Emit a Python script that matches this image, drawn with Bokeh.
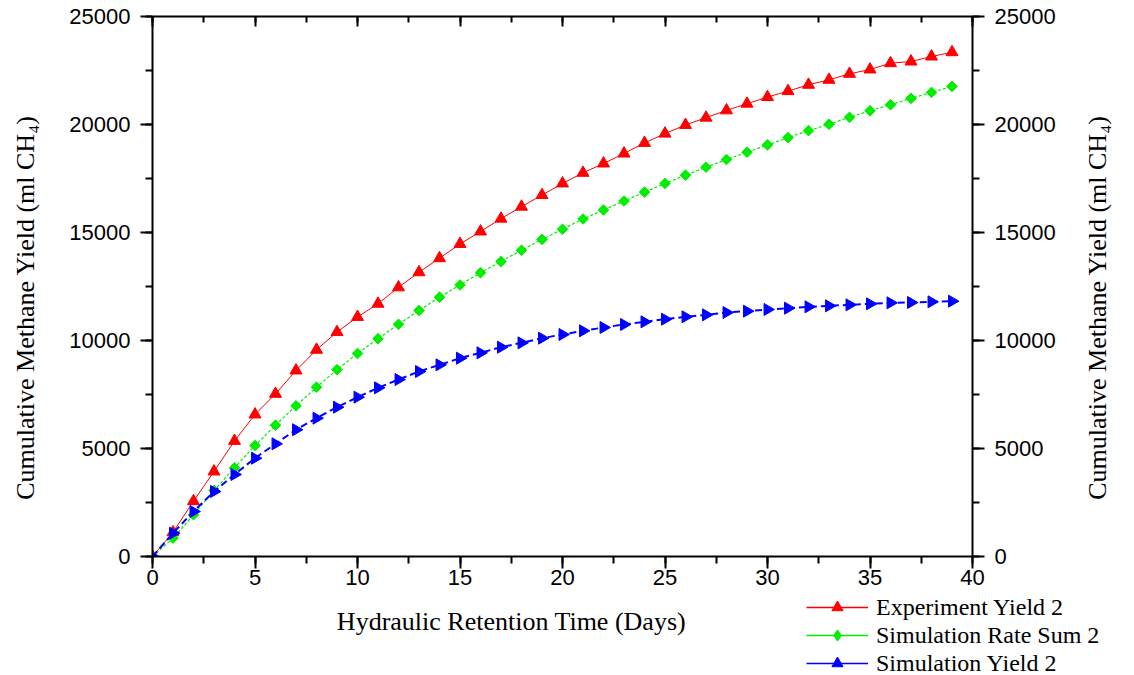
import numpy as np
from bokeh.plotting import figure
from bokeh.models import (LinearAxis, Range1d, SingleIntervalTicker, Legend, LegendItem, Label)
from bokeh.layouts import column, row
from bokeh.embed import file_html
from bokeh.resources import INLINE

# ---- data ----
days = list(range(0, 40))
experiment_yield_2 = [0, 1120, 2560, 3935, 5350, 6574, 7530, 8611, 9570, 10390,
                      11090, 11700, 12460, 13160, 13810, 14470, 15046, 15640, 16194, 16732,
                      17270, 17763, 18194, 18655, 19147, 19578, 19978, 20316, 20654, 20962,
                      21270, 21546, 21839, 22069, 22346, 22546, 22838, 22915, 23146, 23346]
simulation_rate_sum_2 = [0, 850, 1930, 3056, 4105, 5139, 6080, 6975, 7840, 8650,
                         9400, 10085, 10750, 11389, 12006, 12570, 13135, 13657, 14180, 14680,
                         15150, 15625, 16040, 16456, 16871, 17271, 17655, 18024, 18378, 18717,
                         19055, 19393, 19716, 20008, 20331, 20639, 20916, 21208, 21485, 21762]
simulation_yield_2 = [0, 1080, 2083, 3009, 3796, 4552, 5216, 5870, 6404, 6913,
                      7376, 7809, 8194, 8565, 8873, 9182, 9429, 9691, 9892, 10108,
                      10278, 10448, 10602, 10741, 10864, 10988, 11096, 11188, 11296, 11358,
                      11435, 11497, 11559, 11605, 11651, 11698, 11744, 11759, 11790, 11821]
series_names = ["Experiment Yield 2", "Simulation Rate Sum 2", "Simulation Yield 2"]
x_label = "Hydraulic Retention Time (Days)"
y_label = "Cumulative Methane Yield (ml CH\u2084)"

SERIF = "Liberation Serif"
SANS = "Liberation Sans"
RED, GREEN, BLUE = "#FF0000", "#00EE00", "#0000FF"

TOP, BOTTOM = 16, 38      # borders of the main panel
H_MAIN = 594


def no_align(fig):
    try:
        fig.frame_align = False
    except Exception:
        pass


def blank(fig):
    fig.grid.visible = False
    fig.outline_line_color = None
    fig.background_fill_color = "white"
    fig.border_fill_color = "white"


p = figure(width=1024, height=H_MAIN, output_backend="svg", toolbar_location=None,
           x_range=Range1d(0, 40), y_range=Range1d(0, 25000),
           min_border_left=102, min_border_right=102, min_border_top=TOP, min_border_bottom=BOTTOM)
blank(p)
no_align(p)


def style_axis(ax, ticks_out=True, labels=True):
    ax.axis_line_color = "black"
    ax.axis_line_width = 2
    ax.major_tick_line_color = "black"
    ax.major_tick_line_width = 2
    ax.minor_tick_line_color = "black"
    ax.minor_tick_line_width = 2
    if ticks_out:
        ax.major_tick_out = 12
        ax.major_tick_in = 0
        ax.minor_tick_out = 7
        ax.minor_tick_in = 0
    else:
        ax.major_tick_out = 0
        ax.major_tick_in = 10
        ax.minor_tick_out = 0
        ax.minor_tick_in = 6
    ax.major_label_text_font = SANS
    ax.major_label_text_font_size = "22px"
    ax.major_label_text_color = "black" if labels else None


p.xaxis.ticker = SingleIntervalTicker(interval=5, num_minor_ticks=2)
p.yaxis.ticker = SingleIntervalTicker(interval=5000, num_minor_ticks=2)
style_axis(p.xaxis[0])
style_axis(p.yaxis[0])
p.xaxis.major_label_standoff = 1
p.yaxis.major_label_standoff = 10

top = LinearAxis(ticker=SingleIntervalTicker(interval=5, num_minor_ticks=2))
style_axis(top, ticks_out=False, labels=False)
top.major_label_text_font_size = "0px"
p.add_layout(top, "above")

right = LinearAxis(ticker=SingleIntervalTicker(interval=5000, num_minor_ticks=2))
style_axis(right)
right.major_label_standoff = 10
p.add_layout(right, "right")

line_styles = [dict(color=RED, line_width=1),
               dict(color=GREEN, line_width=1.2, line_dash="3 2"),
               dict(color=BLUE, line_width=2, line_dash="7 4")]
marker_styles = [dict(marker="triangle", size=12, color=RED),
                 dict(marker="square", size=7.5, angle=np.pi / 4, color=GREEN),
                 dict(marker="triangle", size=12, angle=-np.pi / 2, color=BLUE)]
series_values = [experiment_yield_2, simulation_rate_sum_2, simulation_yield_2]

for vals, ls, ms in zip(series_values, line_styles, marker_styles):
    p.line(days, vals, **ls)
    p.scatter(days, vals, **ms)

# ---- side strips: y-axis titles (left and right) ----
Y_TITLE_AT = 11530   # vertical centre of the y titles, in data units


def side_strip(width, xc):
    s = figure(width=width, height=H_MAIN, output_backend="svg", toolbar_location=None,
               x_range=Range1d(0, width), y_range=p.y_range,
               x_axis_location=None, y_axis_location=None,
               min_border_left=0, min_border_right=0, min_border_top=TOP, min_border_bottom=BOTTOM)
    blank(s)
    no_align(s)
    s.add_layout(Label(x=xc, y=Y_TITLE_AT, text=y_label, angle=np.pi / 2, text_align="center",
                       text_baseline="middle", text_font=SERIF, text_font_size="26px",
                       text_color="black"))
    return s


p_left = side_strip(50, 25)
p_right = side_strip(60, 23)

# ---- lower strip: x-axis title and legend ----
p2 = figure(width=1134, height=675 - H_MAIN, output_backend="svg", toolbar_location=None,
            x_range=Range1d(0, 1134), y_range=Range1d(0, 675 - H_MAIN),
            x_axis_location=None, y_axis_location=None,
            min_border_left=0, min_border_right=0, min_border_top=0, min_border_bottom=0)
blank(p2)
no_align(p2)

legend_markers = ["triangle", "diamond", "triangle"]
items = []
for name, ls, ms, lm in zip(series_names, line_styles, marker_styles, legend_markers):
    rl = p2.line([np.nan], [np.nan], color=ls["color"], line_width=1.5)
    rm = p2.scatter([np.nan], [np.nan], marker=lm, color=ms["color"])
    items.append(LegendItem(label=name, renderers=[rl, rm]))

legend = Legend(items=items, location=(806, -2), orientation="vertical",
                glyph_width=62, glyph_height=28, label_height=28, spacing=0,
                padding=0, margin=0, label_standoff=8,
                label_text_font=SERIF, label_text_font_size="24px", label_text_color="black",
                border_line_color=None, background_fill_alpha=0)
p2.add_layout(legend)

p2.add_layout(Label(x=511, y=54, text=x_label, text_align="center", text_baseline="middle",
                    text_font=SERIF, text_font_size="26px", text_color="black"))

layout = column(row(p_left, p, p_right, spacing=0), p2, spacing=0)
open("out.html", "w").write(file_html(layout, INLINE))
